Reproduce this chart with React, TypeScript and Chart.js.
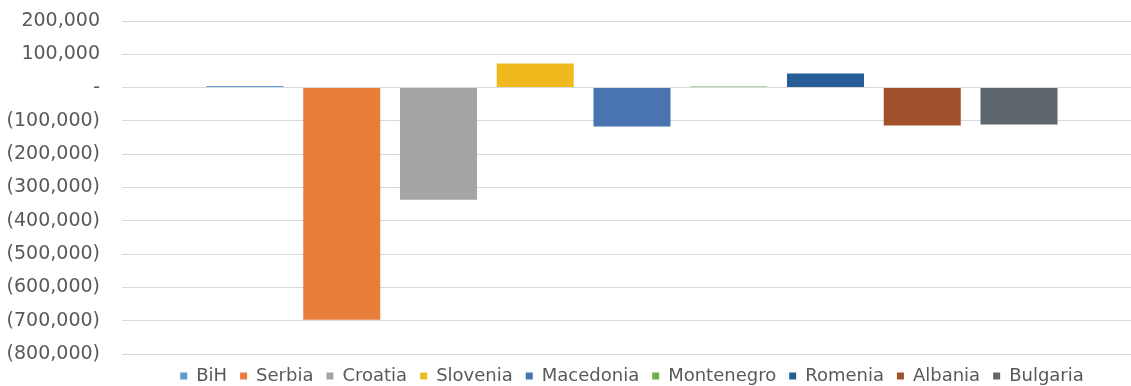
import React, { useEffect, useRef } from "react";
import { Chart, registerables } from "chart.js";

Chart.register(...registerables);

const countries = ["BiH", "Serbia", "Croatia", "Slovenia", "Macedonia", "Montenegro", "Romenia", "Albania", "Bulgaria"];
const values = [5000, -697000, -337000, 72000, -117000, 3000, 42000, -114000, -111000];
const colors = ["#5B9BD5", "#E97D3A", "#A5A5A5", "#F0BA1E", "#4A73B2", "#70AD47", "#275E97", "#A0502A", "#5F676E"];
const yMin = -800000;
const yMax = 200000;
const yStep = 100000;

function fmt(v: number): string {
  if (v === 0) return "-";
  const s = Math.abs(v).toLocaleString("en-US");
  return v < 0 ? `(${s})` : s;
}

export default function App() {
  const ref = useRef<HTMLCanvasElement | null>(null);
  useEffect(() => {
    if (!ref.current) return;
    const chart = new Chart(ref.current, {
      type: "bar",
      data: {
        labels: [""],
        datasets: countries.map((c, i) => ({
          label: c,
          data: [values[i]],
          backgroundColor: colors[i],
          borderWidth: 0,
          categoryPercentage: 0.8537,
          barPercentage: 0.796,
        })),
      },
      options: {
        animation: false,
        responsive: false,
        maintainAspectRatio: false,
        layout: { padding: { top: 21, left: 0, right: 0, bottom: 0 } },
        plugins: {
          tooltip: { enabled: false },
          legend: {
            position: "bottom",
            fullSize: false,
            labels: {
              boxWidth: 7,
              boxHeight: 7,
              padding: 13,
              color: "#595959",
              font: { family: "DejaVu Sans", size: 18 },
            },
          },
        },
        scales: {
          x: {
            display: false,
          },
          y: {
            min: yMin,
            max: yMax,
            afterFit: (scale: any) => {
              scale.width = 122;
              scale.paddingTop = 0;
              scale.paddingBottom = 0;
            },
            ticks: {
              stepSize: yStep,
              padding: 22,
              color: "#595959",
              font: { family: "DejaVu Sans", size: 19 },
              callback: (v: any) => fmt(Number(v)),
            },
            grid: { color: "#D9D9D9", drawTicks: false, lineWidth: 1 },
            border: { display: false },
          },
        },
      },
    });
    return () => chart.destroy();
  }, []);
  return (
    <div style={{ position: "absolute", left: 0, top: 0, width: 1131, height: 386, background: "#fff", overflow: "hidden" }}>
      <canvas ref={ref} width={1142} height={395} style={{ width: 1142, height: 395 }} />
    </div>
  );
}
